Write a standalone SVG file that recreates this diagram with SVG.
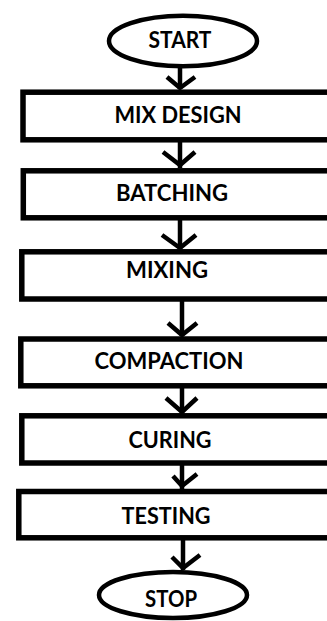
<svg xmlns="http://www.w3.org/2000/svg" width="327" height="621" viewBox="0 0 327 621">
<style>
.box{fill:#fff;stroke:#000;stroke-width:5.5}
.term{fill:#fff;stroke:#000;stroke-width:4.5}
.lbl{font-family:Lato,"Liberation Sans",sans-serif;font-weight:bold;font-size:22px;fill:#000;text-anchor:middle}
.conn line,.conn polyline{fill:none;stroke:#000;stroke-width:4.5}
</style>
<rect width="327" height="621" fill="#fff"/>
<g id="start">
<ellipse class="term" cx="183" cy="41" rx="74" ry="25.3"/>
<text class="lbl" x="180" y="48" textLength="63" lengthAdjust="spacingAndGlyphs">START</text>
</g>
<g id="mix-design">
<rect class="box" x="23" y="92.2" width="330" height="47.6"/>
<text class="lbl" x="178" y="123" textLength="127" lengthAdjust="spacingAndGlyphs">MIX DESIGN</text>
</g>
<g id="batching">
<rect class="box" x="23.3" y="170.8" width="330" height="47"/>
<text class="lbl" x="172" y="200.7" textLength="112" lengthAdjust="spacingAndGlyphs">BATCHING</text>
</g>
<g id="mixing">
<rect class="box" x="21.8" y="251.8" width="330" height="47.2"/>
<text class="lbl" x="167" y="278.3" textLength="82" lengthAdjust="spacingAndGlyphs">MIXING</text>
</g>
<g id="compaction">
<rect class="box" x="20.8" y="339" width="330" height="46.8"/>
<text class="lbl" x="169" y="369" textLength="149" lengthAdjust="spacingAndGlyphs">COMPACTION</text>
</g>
<g id="curing">
<rect class="box" x="21.8" y="415.8" width="330" height="47.2"/>
<text class="lbl" x="170" y="448.3" textLength="83" lengthAdjust="spacingAndGlyphs">CURING</text>
</g>
<g id="testing">
<rect class="box" x="18.8" y="491.5" width="330" height="46.3"/>
<text class="lbl" x="166" y="524" textLength="89" lengthAdjust="spacingAndGlyphs">TESTING</text>
</g>
<g id="stop">
<ellipse class="term" cx="173" cy="595" rx="74" ry="23"/>
<text class="lbl" x="171" y="606.7" textLength="52" lengthAdjust="spacingAndGlyphs">STOP</text>
</g>
<g id="connectors" class="conn">
<line x1="180" y1="66" x2="180" y2="89"/>
<polyline points="167,77 180,88 195,77"/>
<line x1="180" y1="142" x2="180" y2="168"/>
<polyline points="163,152 180,165 195,152"/>
<line x1="180" y1="220" x2="180" y2="249"/>
<polyline points="162,235 180,248 196,235"/>
<line x1="182" y1="301" x2="182" y2="336"/>
<polyline points="168,323 182,335 197,323"/>
<line x1="182" y1="388" x2="182" y2="413"/>
<polyline points="166,398 182,412 197,398"/>
<line x1="182" y1="465" x2="182" y2="489"/>
<polyline points="173,476 182,486 197,474"/>
<line x1="183" y1="540" x2="183" y2="570"/>
<polyline points="172,557 183,568 200,555"/>
</g>
</svg>
